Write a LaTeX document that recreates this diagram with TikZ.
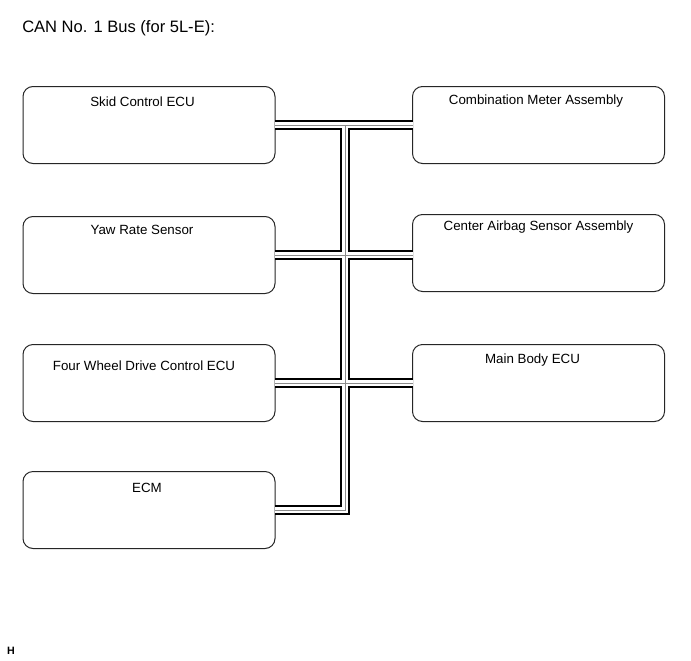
\documentclass[tikz,border=0pt]{standalone}
\usepackage{fontspec}
\setmainfont{Liberation Sans}
\begin{document}
\begin{tikzpicture}[x=0.75pt,y=-0.75pt,
  ecubox/.style={draw=black!85,line width=0.75pt,rounded corners=7.5pt,fill=white,
    minimum width=189pt,minimum height=57.75pt,inner sep=0pt,outer sep=0pt},
  lbl/.style={font=\fontsize{10pt}{12pt}\selectfont,inner sep=0pt},
  busouter/.style={line width=7.9pt,black,line join=miter},
  businner/.style={line width=4.5pt,white,line join=miter},
  buscenter/.style={line width=0.6pt,black!45,line join=miter}]
\useasboundingbox (0,0) rectangle (691,660);
\node[anchor=base west,inner sep=0pt,font=\fontsize{12.4pt}{14pt}\selectfont] (title) at (22,33) {CAN No. 1 Bus (for 5L-E):};
% bus junctions
\coordinate (j1) at (345,125);
\coordinate (j2) at (345,255);
\coordinate (j3) at (345,383);
\coordinate (j4) at (345,510);
% boxes
\node[ecubox] (skid) at (149,125) {};
\node[ecubox] (yaw) at (149,255) {};
\node[ecubox] (fwd) at (149,383) {};
\node[ecubox] (ecm) at (149,510) {};
\node[ecubox] (comb) at (538.5,125) {};
\node[ecubox] (airbag) at (538.5,253) {};
\node[ecubox] (mainb) at (538.5,383) {};
% bus
\foreach \s in {busouter,businner,buscenter}{
  \draw[\s] (skid.east) -- (comb.west);
  \draw[\s] (yaw.east) -- (yaw.east -| airbag.west);
  \draw[\s] (fwd.east) -- (mainb.west);
  \draw[\s] (ecm.east) -- (j4) -- (j1);
}
% labels
\node[lbl] (tskid) at (142.5,102) {Skid Control ECU};
\node[lbl] (tyaw) at (142,230) {Yaw Rate Sensor};
\node[lbl] (tfwd) at (144,366) {Four Wheel Drive Control ECU};
\node[lbl] (tecm) at (147,488) {ECM};
\node[lbl] (tcomb) at (536,101) {Combination Meter Assembly};
\node[lbl] (tairbag) at (538.5,227) {Center Airbag Sensor Assembly};
\node[lbl] (tmain) at (532.5,360) {Main Body ECU};
\node[inner sep=0pt,font=\bfseries\fontsize{8pt}{9pt}\selectfont] (hmark) at (11,651) {H};
\end{tikzpicture}
\end{document}
